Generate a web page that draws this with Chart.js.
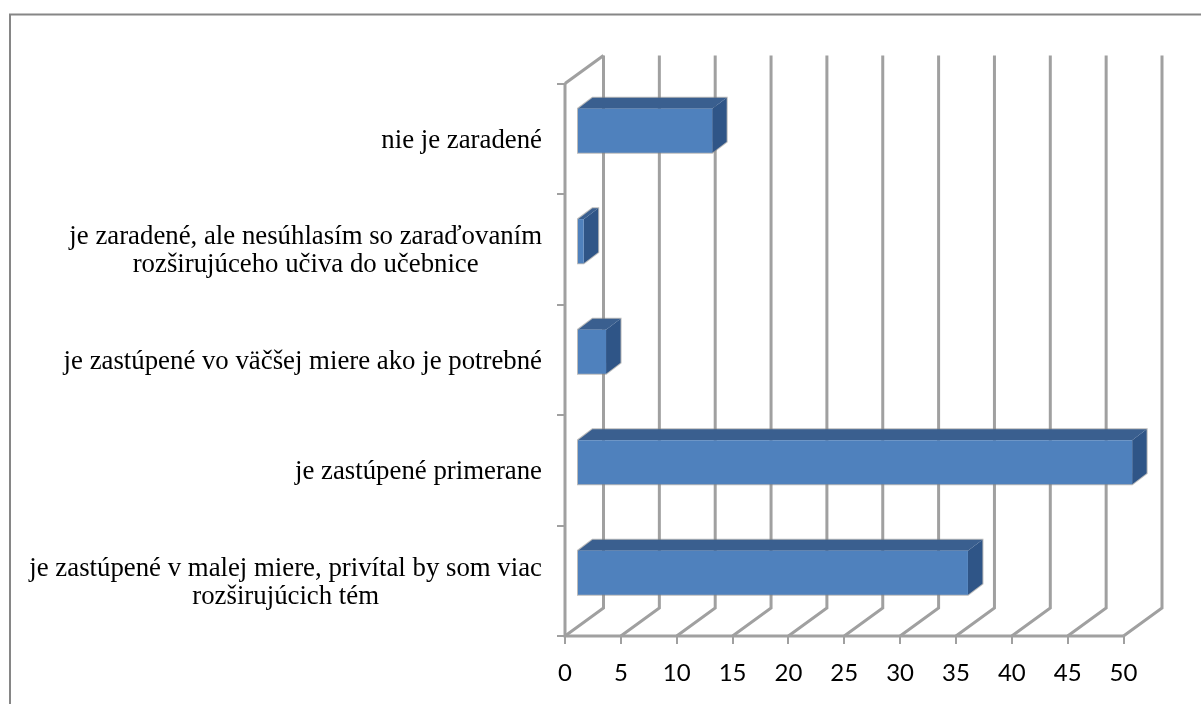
<!DOCTYPE html>
<html><head><meta charset="utf-8">
<style>html,body{margin:0;padding:0;background:#fff}#w{width:1201px;height:704px;position:relative}</style>
<script src="https://cdn.jsdelivr.net/npm/chart.js@4"></script>
</head><body><div id="w"><canvas id="c" width="1201" height="704"></canvas></div>
<script>
const categories = [
  "nie je zaradené",
  ["je zaradené, ale nesúhlasím so zaraďovaním", "rozširujúceho učiva do učebnice"],
  "je zastúpené vo väčšej miere ako je potrebné",
  "je zastúpené primerane",
  ["je zastúpené v malej miere, privítal by som viac", "rozširujúcich tém"]
];
const values = [12.1, 0.6, 2.6, 49.7, 35];
const xTicks = [0, 5, 10, 15, 20, 25, 30, 35, 40, 45, 50];

const GRID = '#a0a0a0', FACE = '#4f81bd', TOP = '#3a5f8f', SIDE = '#2f5587';
const WALL = {dx: 38.5, dy: -28}, SHIFT = {dx: 12, dy: -8}, DEPTH = {dx: 14.5, dy: -11};

const threeD = {
  id: 'threeD',
  beforeDatasetsDraw(chart) {
    const {ctx, chartArea: a, scales: {x}} = chart;
    ctx.save();
    ctx.strokeStyle = '#868686'; ctx.lineWidth = 2;
    ctx.beginPath(); ctx.moveTo(10, 704); ctx.lineTo(10, 14.5); ctx.lineTo(1201, 14.5); ctx.stroke();
    ctx.strokeStyle = GRID; ctx.lineWidth = 3; ctx.lineJoin = 'miter';
    xTicks.forEach(v => {
      const p = x.getPixelForValue(v);
      ctx.beginPath();
      ctx.moveTo(p, a.bottom);
      ctx.lineTo(p + WALL.dx, a.bottom + WALL.dy);
      ctx.lineTo(p + WALL.dx, a.top + WALL.dy);
      ctx.stroke();
    });
    const p0 = x.getPixelForValue(0);
    ctx.beginPath();
    ctx.moveTo(p0, a.top); ctx.lineTo(p0 + WALL.dx, a.top + WALL.dy); ctx.stroke();
    ctx.beginPath();
    ctx.moveTo(p0, a.top); ctx.lineTo(p0, a.bottom); ctx.lineTo(x.getPixelForValue(50), a.bottom); ctx.stroke();
    ctx.restore();
  },
  beforeDatasetDraw(chart) {
    const ctx = chart.ctx;
    ctx.save();
    ctx.translate(SHIFT.dx, SHIFT.dy);
    chart.getDatasetMeta(0).data.forEach(b => {
      const top = b.y - b.height / 2, bot = b.y + b.height / 2, l = b.base, r = b.x;
      // soft grey edge around the whole block
      ctx.strokeStyle = 'rgba(130,130,130,0.55)'; ctx.lineWidth = 2;
      ctx.beginPath();
      ctx.moveTo(l, top); ctx.lineTo(l + DEPTH.dx, top + DEPTH.dy);
      ctx.lineTo(r + DEPTH.dx, top + DEPTH.dy); ctx.lineTo(r + DEPTH.dx, bot + DEPTH.dy);
      ctx.lineTo(r, bot); ctx.lineTo(l, bot); ctx.closePath(); ctx.stroke();
      ctx.fillStyle = TOP;
      ctx.beginPath();
      ctx.moveTo(l, top); ctx.lineTo(l + DEPTH.dx, top + DEPTH.dy);
      ctx.lineTo(r + DEPTH.dx, top + DEPTH.dy); ctx.lineTo(r, top); ctx.closePath(); ctx.fill();
      ctx.fillStyle = SIDE;
      ctx.beginPath();
      ctx.moveTo(r, top); ctx.lineTo(r + DEPTH.dx, top + DEPTH.dy);
      ctx.lineTo(r + DEPTH.dx, bot + DEPTH.dy); ctx.lineTo(r, bot); ctx.closePath(); ctx.fill();
    });
  },
  afterDatasetDraw(chart) { chart.ctx.restore(); }
};

const centreLines = {
  id: 'centreLines',
  afterLayout(chart) {
    const s = chart.scales.y, orig = s._computeLabelItems;
    if (s._patched) return;
    s._patched = true;
    s._computeLabelItems = function (area) {
      const items = orig.call(this, area), ctx = this.ctx;
      items.forEach(it => {
        it.options.translation[1] += 2;
        if (!Array.isArray(it.label)) return;
        ctx.save(); ctx.font = it.font.string;
        const w = Math.max(...it.label.map(t => ctx.measureText(t).width));
        ctx.restore();
        it.options.textAlign = 'center';
        it.options.translation[0] -= w / 2;
      });
      return items;
    };
  }
};

new Chart(document.getElementById('c'), {
  type: 'bar',
  data: {labels: categories, datasets: [{
    data: values, backgroundColor: FACE, borderWidth: 0,
    categoryPercentage: 1, barPercentage: 0.4, clip: false
  }]},
  plugins: [threeD, centreLines],
  options: {
    indexAxis: 'y', responsive: false, animation: false,
    layout: {padding: {left: 0, right: 77.5, top: 83.5, bottom: 0}},
    plugins: {legend: {display: false}, title: {display: false}, tooltip: {enabled: false}},
    scales: {
      x: {
        type: 'linear', min: 0, max: 50,
        afterFit(s) { s.height = 68; },
        afterBuildTicks(s) { s.ticks = xTicks.map(v => ({value: v})); },
        border: {display: false},
        grid: {drawOnChartArea: false, drawTicks: true, tickLength: 8, color: GRID, lineWidth: 2},
        ticks: {color: '#000', font: {family: 'Lato', size: 24}, padding: 15, maxRotation: 0, autoSkip: false}
      },
      y: {
        type: 'category', offset: true,
        afterFit(s) { s.width = 565; },
        border: {display: false},
        grid: {offset: true, drawOnChartArea: false, drawTicks: true, tickLength: 8, color: GRID, lineWidth: 2},
        ticks: {color: '#000', font: {family: 'Liberation Serif', size: 26.8, lineHeight: 1.045}, padding: 15, autoSkip: false}
      }
    }
  }
});
</script></body></html>
